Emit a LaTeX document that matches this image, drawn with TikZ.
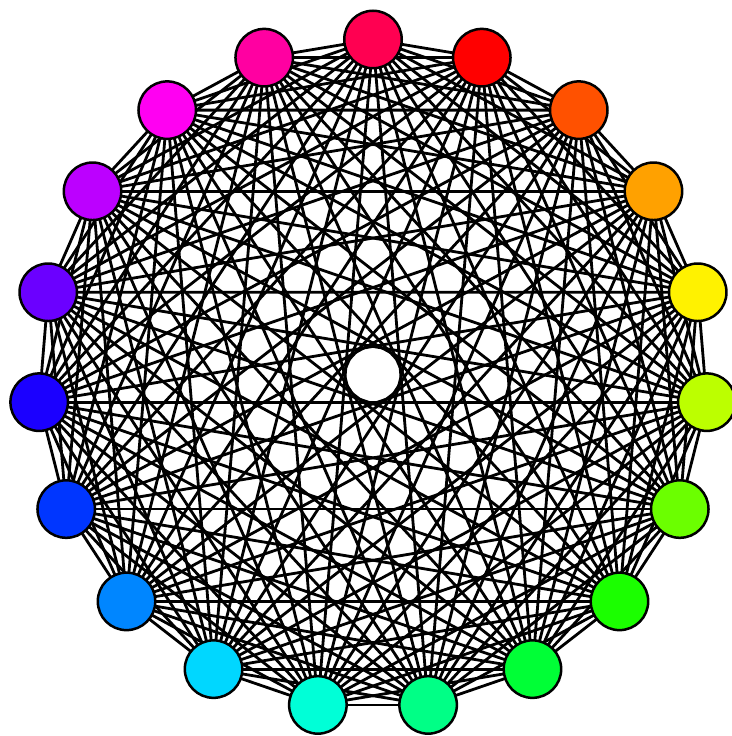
\documentclass[tikz,border=0pt]{standalone}
\usetikzlibrary{backgrounds}
\begin{document}
\begin{tikzpicture}[x=1pt,y=1pt,
  vert/.style={circle,draw=black,line width=2.5pt,minimum size=57.5pt,inner sep=0pt},
  edge/.style={draw=black,line width=2.8pt}]
\useasboundingbox (-373,-361.5) rectangle (358,374.5);
\foreach \i in {0,...,18}{
  \pgfmathsetmacro\ang{90-\i*360/19}
  \pgfmathsetmacro\h{mod(341.0526+\i*18.947368,360)/360}
  \convertcolorspec{hsb}{\h,1,1}{rgb}\mycolspec
  \definecolor{col\i}{rgb}{\mycolspec}
  \node[vert,fill=col\i] (n\i) at (\ang:335) {};
}
\begin{pgfonlayer}{background}
\foreach \i in {0,...,17}{
  \pgfmathtruncatemacro\k{\i+1}
  \foreach \j in {\k,...,18}{
    \draw[edge] (n\i.center) -- (n\j.center);
  }
}
\end{pgfonlayer}
\end{tikzpicture}
\end{document}
